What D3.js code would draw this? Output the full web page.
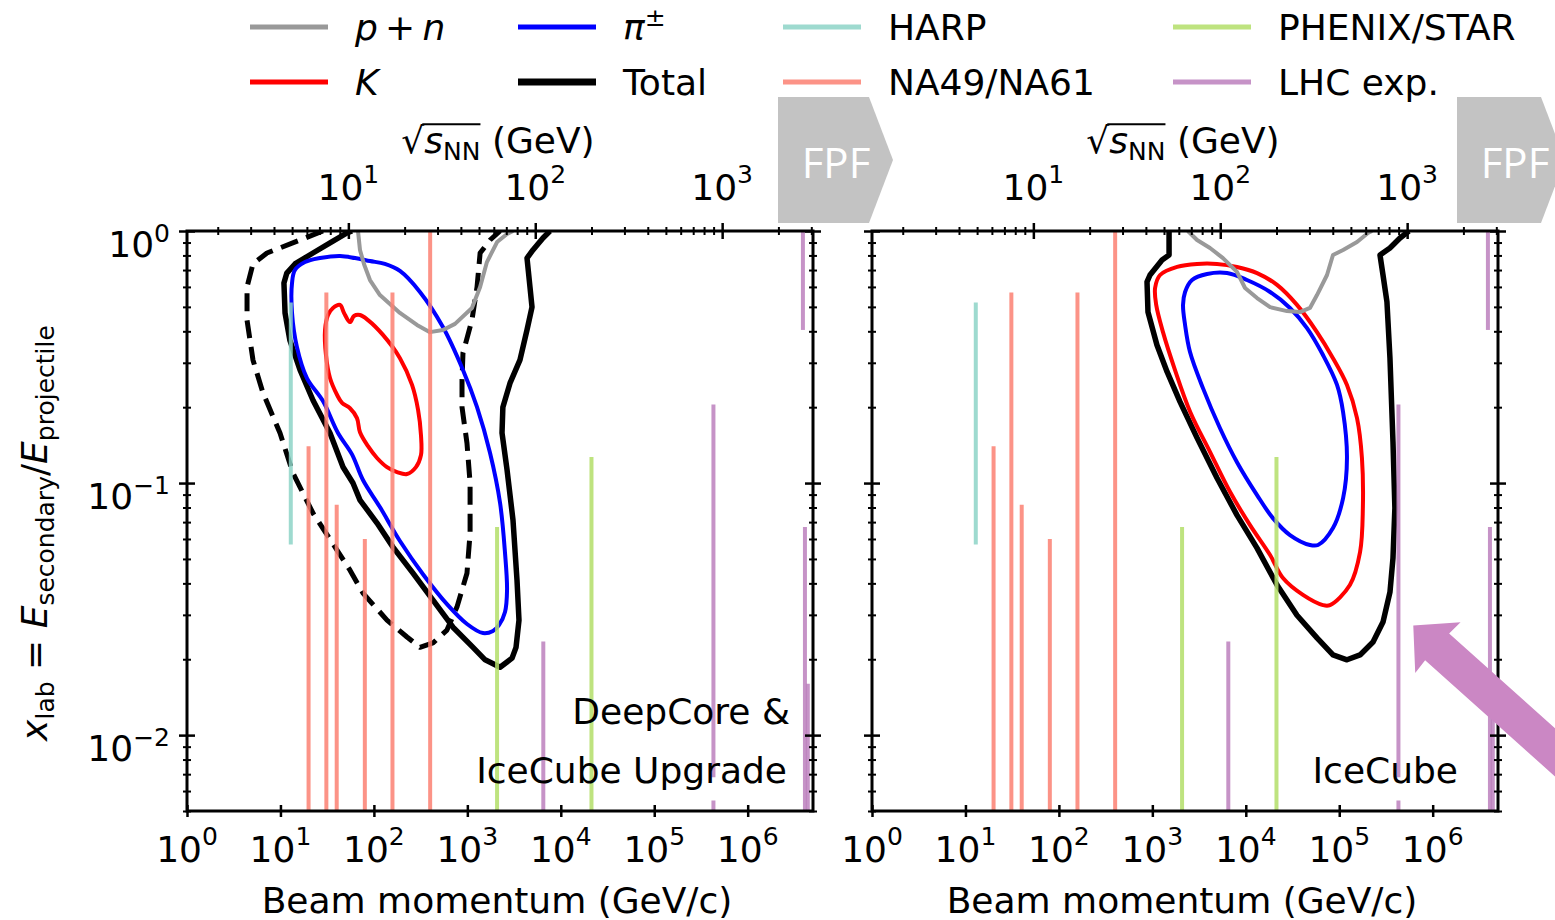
<!DOCTYPE html>
<html>
<head>
<meta charset="utf-8">
<script src="https://cdn.jsdelivr.net/npm/d3@7"></script>
<style>
  html, body { margin: 0; padding: 0; background: #fff; }
  svg { display: block; font-family: "DejaVu Sans", sans-serif; }
</style>
</head>
<body>
<svg id="chart" width="1555" height="920"></svg>
<script>
// ---------------------------------------------------------------
// Phase space of hadronic interactions relevant for atmospheric
// neutrinos: beam momentum vs. x_lab, with experimental coverage.
// Contour points are [beam momentum (GeV/c), x_lab].
// ---------------------------------------------------------------

const PROTON_MASS = 0.938;                 // GeV
const momentumDomain = [1, 5e6];          // GeV/c
const xlabDomain = [0.005, 1];

const momentumTicks = [1, 10, 100, 1e3, 1e4, 1e5, 1e6];
const momentumTickExp = ["0", "1", "2", "3", "4", "5", "6"];
const xlabTicks = [1, 0.1, 0.01];
const xlabTickExp = ["0", "\u22121", "\u22122"];
const xlabMinorTicks = [0.9, 0.8, 0.7, 0.6, 0.5, 0.4, 0.3, 0.2,
                        0.09, 0.08, 0.07, 0.06, 0.05, 0.04, 0.03, 0.02,
                        0.009, 0.008, 0.007, 0.006, 0.005];
const sqrtsTicks = [10, 100, 1000];
const sqrtsTickExp = ["1", "2", "3"];
const sqrtsMinorTicks = [2, 3, 4, 5, 6, 7, 8, 9,
                         20, 30, 40, 50, 60, 70, 80, 90,
                         200, 300, 400, 500, 600, 700, 800, 900,
                         2000, 3000];

// DeepCore & IceCube Upgrade
const dcTotal = [
  [7660, 1.0], [6450, 0.938], [5040, 0.841], [4350, 0.781], [4680, 0.600], [4920, 0.499],
  [4350, 0.405], [3660, 0.308], [2860, 0.249], [2400, 0.200], [2350, 0.158], [2660, 0.1127],
  [3080, 0.0713], [3400, 0.0412], [3570, 0.0286], [3320, 0.0223], [3010, 0.0202], [2240, 0.0186],
  [1550, 0.0199], [1150, 0.0223], [702, 0.0268], [429, 0.0343], [262, 0.0439], [160, 0.0557],
  [108, 0.0694], [71.0, 0.0856], [59.7, 0.100], [46.7, 0.1158], [33.9, 0.158], [22.3, 0.213],
  [16.2, 0.281], [12.6, 0.369], [11.2, 0.473], [10.9, 0.622], [11.7, 0.681], [14.3, 0.740],
  [22.3, 0.818], [36.5, 0.912], [51.5, 0.982], [58.3, 1.0]
];
const dcTotalAlt = [
  [28.5, 1.0], [16.2, 0.921], [7.18, 0.818], [5.08, 0.740], [4.39, 0.600], [4.39, 0.443],
  [5.08, 0.308], [6.50, 0.228], [9.89, 0.158], [13.6, 0.1096], [22.3, 0.0760], [40.3, 0.0542],
  [55.5, 0.0451], [76.4, 0.0366], [138, 0.0286], [226, 0.0245], [311, 0.0223], [429, 0.0232],
  [605, 0.0261], [774, 0.0322], [991, 0.0439], [1070, 0.0633], [1070, 0.100], [991, 0.144],
  [877, 0.200], [877, 0.256], [898, 0.328], [1120, 0.443], [1270, 0.600], [1370, 0.818],
  [1750, 0.921], [2240, 1.0]
];
const dcPion = [
  [13.3, 0.622], [14.3, 0.700], [18.3, 0.753], [26.5, 0.781], [43.4, 0.796], [62.8, 0.781],
  [90.8, 0.760], [131, 0.740], [190, 0.694], [311, 0.573], [548, 0.416], [898, 0.281],
  [1270, 0.200], [1750, 0.1315], [2240, 0.0833], [2530, 0.0528], [2660, 0.0376], [2530, 0.0308],
  [2180, 0.0273], [1880, 0.0259], [1470, 0.0254], [991, 0.0276], [605, 0.0331], [335, 0.0435],
  [190, 0.0589], [116, 0.0803], [76.4, 0.1028], [58.3, 0.130], [41.3, 0.158], [28.5, 0.2115],
  [19.2, 0.261], [15.0, 0.347], [13.3, 0.473]
];
const dcKaon = [
  [30.0, 0.405], [32.3, 0.464], [36.5, 0.495], [43.4, 0.509], [47.9, 0.473], [55.5, 0.435],
  [61.2, 0.460], [71.0, 0.464], [86.5, 0.443], [125, 0.387], [190, 0.313], [256, 0.245],
  [297, 0.195], [319, 0.155], [319, 0.129], [282, 0.1157], [226, 0.1086], [177, 0.1106],
  [138, 0.1157], [108, 0.1257], [86.5, 0.140], [71.0, 0.159], [65.9, 0.181], [55.5, 0.198],
  [45.6, 0.208], [40.3, 0.224], [33.9, 0.261], [30.7, 0.322]
];
const dcNucleon = [
  [67.6, 1.0], [71.0, 0.841], [78.3, 0.740], [90.8, 0.639], [116, 0.557], [190, 0.473],
  [289, 0.424], [398, 0.397], [548, 0.405], [738, 0.428], [1120, 0.495], [1370, 0.600],
  [1620, 0.753], [2080, 0.904], [2660, 0.973], [3080, 1.0]
];

// IceCube
const icTotal = [
  [1510, 1.0], [1510, 0.803], [1270, 0.767], [944, 0.669], [877, 0.628], [898, 0.477],
  [1120, 0.353], [1440, 0.276], [1980, 0.210], [3010, 0.151], [4920, 0.1047], [8050, 0.0746],
  [13200, 0.0552], [21600, 0.0394], [35300, 0.0299], [57800, 0.0243], [85700, 0.0208],
  [121000, 0.0199], [167000, 0.0208], [230000, 0.0234], [294000, 0.0281], [349000, 0.0369],
  [376000, 0.0504], [394000, 0.0796], [376000, 0.1455], [349000, 0.313], [324000, 0.523],
  [294000, 0.669], [273000, 0.803], [349000, 0.856], [447000, 0.938], [557000, 1.0]
];
const icKaon = [
  [1070, 0.594], [1210, 0.669], [1840, 0.720], [3010, 0.740], [4920, 0.740], [8050, 0.720],
  [13200, 0.681], [21600, 0.611], [35300, 0.509], [57800, 0.397], [85700, 0.313],
  [121000, 0.245], [155000, 0.181], [175000, 0.1257], [179000, 0.0796], [167000, 0.0532],
  [130000, 0.0394], [79600, 0.0328], [67000, 0.0328], [40900, 0.0360], [25000, 0.0420],
  [18200, 0.0518], [11100, 0.0681], [6800, 0.0921], [4150, 0.1327], [2550, 0.191],
  [1720, 0.286], [1300, 0.397], [1100, 0.509]
];
const icPion = [
  [2130, 0.509], [2240, 0.573], [2660, 0.639], [3850, 0.675], [6300, 0.681], [10300, 0.639],
  [18200, 0.573], [29700, 0.495], [45200, 0.412], [67000, 0.322], [94700, 0.245],
  [110000, 0.191], [121000, 0.1257], [110000, 0.0872], [85700, 0.0663], [59300, 0.0568],
  [48600, 0.0568], [29700, 0.0622], [19500, 0.0726], [13200, 0.0896], [8050, 0.121],
  [5300, 0.165], [3480, 0.238], [2530, 0.331], [2240, 0.424]
];
const icNucleon = [
  [2400, 1.0], [3010, 0.921], [4140, 0.856], [5700, 0.781], [8050, 0.688], [9820, 0.594],
  [13200, 0.542], [18200, 0.499], [27600, 0.481], [38000, 0.477], [48600, 0.495],
  [57800, 0.557], [74000, 0.669], [85700, 0.803], [110000, 0.841], [155000, 0.904],
  [203000, 0.982], [224000, 1.0]
];

// Experimental coverage: [beam momentum, x_lab min, x_lab max]
const harpCoverage = [[12.9, 0.057, 0.52]];
const na61Coverage = [
  [20, 0.001, 0.14], [31, 0.001, 0.57], [40, 0.001, 0.082],
  [80, 0.001, 0.06], [158, 0.001, 0.57], [400, 0.001, 1]
];
const rhicCoverage = [[2080, 0.001, 0.067], [21300, 0.001, 0.127]];
const lhcCoverage = [
  [6500, 0.001, 0.0235], [4.3e5, 0.0068, 0.205], [4.3e5, 0.001, 0.0055],
  [3.9e6, 0.405, 1], [4.1e6, 0.001, 0.067], [4.4e6, 0.001, 0.016]
];

// FPF pointer target in the IceCube panel
const fpfTarget = [6.2e5, 0.0272];

// ---------------------------------------------------------------
const FONT = 36, SUB = 25;
const plotTop = 231, plotBottom = 811, plotWidth = 626;

const svg = d3.select("#chart");
const defs = svg.append("defs");

const styles = {
  total:   { stroke: "#000000", width: 5.5 },
  alt:     { stroke: "#000000", width: 5,  dash: "18 9" },
  pion:    { stroke: "#0000ff", width: 4 },
  kaon:    { stroke: "#ff0000", width: 4 },
  nucleon: { stroke: "#999999", width: 4 },
  harp:    { stroke: "#8dd3c7", width: 4 },
  na61:    { stroke: "#fb8072", width: 4 },
  rhic:    { stroke: "#b3de69", width: 4 },
  lhc:     { stroke: "#bc80bd", width: 4 }
};
const expOpacity = 0.85;

const panels = [
  {
    left: 187, yLabels: true,
    contours: [
      { data: dcTotalAlt, s: styles.alt, closed: false },
      { data: dcTotal, s: styles.total, closed: false },
      { data: dcPion, s: styles.pion, closed: true },
      { data: dcKaon, s: styles.kaon, closed: true },
      { data: dcNucleon, s: styles.nucleon, closed: false }
    ],
    note: ["DeepCore &", "IceCube Upgrade"], noteInset: [23, 26],
    badge: { x: 778, w: 91 }
  },
  {
    left: 872, yLabels: false,
    contours: [
      { data: icTotal, s: styles.total, closed: false },
      { data: icKaon, s: styles.kaon, closed: true },
      { data: icPion, s: styles.pion, closed: true },
      { data: icNucleon, s: styles.nucleon, closed: false }
    ],
    note: ["IceCube"], noteInset: [40],
    badge: { x: 1457, w: 84 },
    arrow: true
  }
];

function powerLabel(sel, x, y, exp, anchor, supDy) {
  const t = sel.append("text")
    .attr("x", x).attr("y", y)
    .attr("text-anchor", anchor)
    .style("font-size", FONT + "px")
    .attr("fill", "#000");
  t.append("tspan").text("10");
  t.append("tspan").attr("dy", supDy).style("font-size", SUB + "px").text(exp);
  return t;
}

function styleTicks(g, len, width, horizontal) {
  g.select(".domain").remove();
  g.selectAll(".tick line")
    .attr("stroke", "#000")
    .attr("stroke-width", width)
    .each(function () {
      const l = d3.select(this);
      if (horizontal) l.attr("y1", -len).attr("y2", len);
      else l.attr("x1", -len).attr("x2", len);
    });
  g.selectAll(".tick text").remove();
}

panels.forEach((cfg, idx) => {
  const x = d3.scaleLog().domain(momentumDomain).range([cfg.left, cfg.left + plotWidth]);
  const y = d3.scaleLog().domain(xlabDomain).range([plotBottom, plotTop]);
  const sq = d3.scaleLog()
    .domain(momentumDomain.map(p => Math.sqrt(2 * PROTON_MASS * p)))
    .range(x.range());

  const clipId = "plot-clip-" + idx;
  defs.append("clipPath").attr("id", clipId)
    .append("rect")
    .attr("x", cfg.left).attr("y", plotTop)
    .attr("width", plotWidth).attr("height", plotBottom - plotTop);

  const panel = svg.append("g");
  const plot = panel.append("g").attr("clip-path", `url(#${clipId})`);

  // contours
  cfg.contours.forEach(c => {
    const line = d3.line()
      .x(d => x(d[0])).y(d => y(d[1]))
      .curve(c.closed ? d3.curveCatmullRomClosed.alpha(0.5) : d3.curveLinear);
    plot.append("path")
      .datum(c.data)
      .attr("d", line)
      .attr("fill", "none")
      .attr("stroke", c.s.stroke)
      .attr("stroke-width", c.s.width)
      .attr("stroke-linejoin", "round")
      .attr("stroke-dasharray", c.s.dash || null);
  });

  // experimental coverage
  [[harpCoverage, styles.harp], [na61Coverage, styles.na61],
   [rhicCoverage, styles.rhic], [lhcCoverage, styles.lhc]].forEach(([rows, s]) => {
    plot.selectAll(null)
      .data(rows)
      .join("line")
      .attr("x1", d => x(d[0])).attr("x2", d => x(d[0]))
      .attr("y1", d => y(d[1])).attr("y2", d => y(d[2]))
      .attr("stroke", s.stroke)
      .attr("stroke-width", s.width)
      .attr("stroke-opacity", expOpacity);
  });

  // axes
  panel.append("g").attr("transform", `translate(0,${plotBottom})`)
    .call(d3.axisBottom(x).tickValues(momentumTicks).tickFormat(""))
    .call(g => styleTicks(g, 6, 2.5, true));
  panel.append("g").attr("transform", `translate(0,${plotTop})`)
    .call(d3.axisTop(sq).tickValues(sqrtsTicks).tickFormat(""))
    .call(g => styleTicks(g, 8, 2.5, true));
  panel.append("g").attr("transform", `translate(0,${plotTop})`)
    .call(d3.axisTop(sq).tickValues(sqrtsMinorTicks).tickFormat(""))
    .call(g => styleTicks(g, 4, 2, true));
  [cfg.left, cfg.left + plotWidth].forEach(ax => {
    panel.append("g").attr("transform", `translate(${ax},0)`)
      .call(d3.axisLeft(y).tickValues(xlabTicks).tickFormat(""))
      .call(g => styleTicks(g, 8, 2.5, false));
    panel.append("g").attr("transform", `translate(${ax},0)`)
      .call(d3.axisLeft(y).tickValues(xlabMinorTicks).tickFormat(""))
      .call(g => styleTicks(g, 4, 2, false));
  });

  panel.append("rect")
    .attr("x", cfg.left).attr("y", plotTop)
    .attr("width", plotWidth).attr("height", plotBottom - plotTop)
    .attr("fill", "none").attr("stroke", "#000").attr("stroke-width", 3);

  // tick labels
  momentumTicks.forEach((v, i) =>
    powerLabel(panel, x(v), plotBottom + 51, momentumTickExp[i], "middle", -17));
  sqrtsTicks.forEach((v, i) =>
    powerLabel(panel, sq(v), plotTop - 31, sqrtsTickExp[i], "middle", -17));
  if (cfg.yLabels) {
    xlabTicks.forEach((v, i) =>
      powerLabel(panel, cfg.left - 17, y(v) + 26, xlabTickExp[i], "end", -15));
  }

  // axis titles
  const mid = cfg.left + plotWidth / 2;
  panel.append("text")
    .attr("x", mid - 3).attr("y", 913)
    .attr("text-anchor", "middle")
    .style("font-size", FONT + "px")
    .text("Beam momentum (GeV/c)");

  const top = panel.append("text")
    .attr("x", mid - 2).attr("y", 153)
    .attr("text-anchor", "middle")
    .style("font-size", FONT + "px");
  top.append("tspan").text("\u221A");
  top.append("tspan").style("font-style", "italic").text("s");
  top.append("tspan").attr("dy", 7).style("font-size", SUB + "px").text("NN");
  top.append("tspan").attr("dy", -7).text(" (GeV)");
  // radical bar over s_NN
  const node = top.node();
  const nBox = node.getExtentOfChar(3);
  const rBox = node.getExtentOfChar(0);
  const barY = 153 - FONT * 0.80;
  panel.append("line")
    .attr("x1", rBox.x + rBox.width - 2).attr("x2", nBox.x + nBox.width)
    .attr("y1", barY).attr("y2", barY)
    .attr("stroke", "#000").attr("stroke-width", 2);

  // panel annotation
  const right = cfg.left + plotWidth;
  cfg.note.forEach((t, i, arr) => {
    panel.append("text")
      .attr("x", right - cfg.noteInset[i])
      .attr("y", 783 - (arr.length - 1 - i) * 59)
      .attr("text-anchor", "end")
      .style("font-size", FONT + "px")
      .text(t);
  });

  // FPF badge
  const b = cfg.badge;
  panel.append("polygon")
    .attr("points", [[b.x, 97], [b.x + b.w, 97], [b.x + b.w + 24, 160], [b.x + b.w, 223], [b.x, 223]]
      .map(p => p.join(",")).join(" "))
    .attr("fill", "#c3c3c3");
  panel.append("text")
    .attr("x", b.x + 58).attr("y", 178)
    .attr("text-anchor", "middle")
    .style("font-family", "'Open Sans', sans-serif")
    .style("font-size", "42px")
    .attr("fill", "#ffffff")
    .text("FPF");

  // arrow pointing at the forward region
  if (cfg.arrow) {
    const tx = x(fpfTarget[0]), ty = y(fpfTarget[1]);
    panel.append("polygon")
      .attr("transform", `translate(${tx},${ty}) rotate(41.8)`)
      .attr("points", [[0, 0], [33, -34], [32, -18], [320, -18], [320, 18], [32, 18], [33, 34]]
        .map(p => p.join(",")).join(" "))
      .attr("fill", "#cb87c4");
  }
});

// y-axis title
const yTitle = svg.append("text")
  .attr("transform", "translate(47,533) rotate(-90)")
  .attr("text-anchor", "middle")
  .style("font-size", FONT + "px");
yTitle.append("tspan").style("font-style", "italic").text("x");
yTitle.append("tspan").attr("dy", 7).style("font-size", SUB + "px").text("lab");
yTitle.append("tspan").attr("dy", -7).text(" = ");
yTitle.append("tspan").style("font-style", "italic").text("E");
yTitle.append("tspan").attr("dy", 7).style("font-size", SUB + "px").text("secondary");
yTitle.append("tspan").attr("dy", -7).text("/");
yTitle.append("tspan").style("font-style", "italic").text("E");
yTitle.append("tspan").attr("dy", 7).style("font-size", SUB + "px").text("projectile");

// legend
const legendItems = [
  { col: 0, row: 0, s: styles.nucleon, w: 5, label: [["p", true], ["\u2009+\u2009", false], ["n", true]] },
  { col: 0, row: 1, s: styles.kaon, w: 5, label: [["K", true]] },
  { col: 1, row: 0, s: styles.pion, w: 5, label: [["\u03C0", true], ["\u00B1", false, true]] },
  { col: 1, row: 1, s: styles.total, w: 7, label: [["Total", false]] },
  { col: 2, row: 0, s: styles.harp, w: 5, op: expOpacity, label: [["HARP", false]] },
  { col: 2, row: 1, s: styles.na61, w: 5, op: expOpacity, label: [["NA49/NA61", false]] },
  { col: 3, row: 0, s: styles.rhic, w: 5, op: expOpacity, label: [["PHENIX/STAR", false]] },
  { col: 3, row: 1, s: styles.lhc, w: 5, op: expOpacity, label: [["LHC exp.", false]] }
];
const legendColX = [250, 518, 783, 1173];
const legendRowY = [27, 82];
const legend = svg.append("g");
legendItems.forEach(it => {
  const lx = legendColX[it.col], ly = legendRowY[it.row];
  legend.append("line")
    .attr("x1", lx).attr("x2", lx + 78)
    .attr("y1", ly).attr("y2", ly)
    .attr("stroke", it.s.stroke)
    .attr("stroke-width", it.w)
    .attr("stroke-opacity", it.op || 1);
  const t = legend.append("text")
    .attr("x", lx + 105).attr("y", ly + 13)
    .style("font-size", FONT + "px");
  it.label.forEach(([str, ital, sup]) => {
    const ts = t.append("tspan").text(str);
    if (ital) ts.style("font-style", "italic");
    if (sup) ts.attr("dy", -14).style("font-size", SUB + "px");
  });
});
</script>
</body>
</html>
